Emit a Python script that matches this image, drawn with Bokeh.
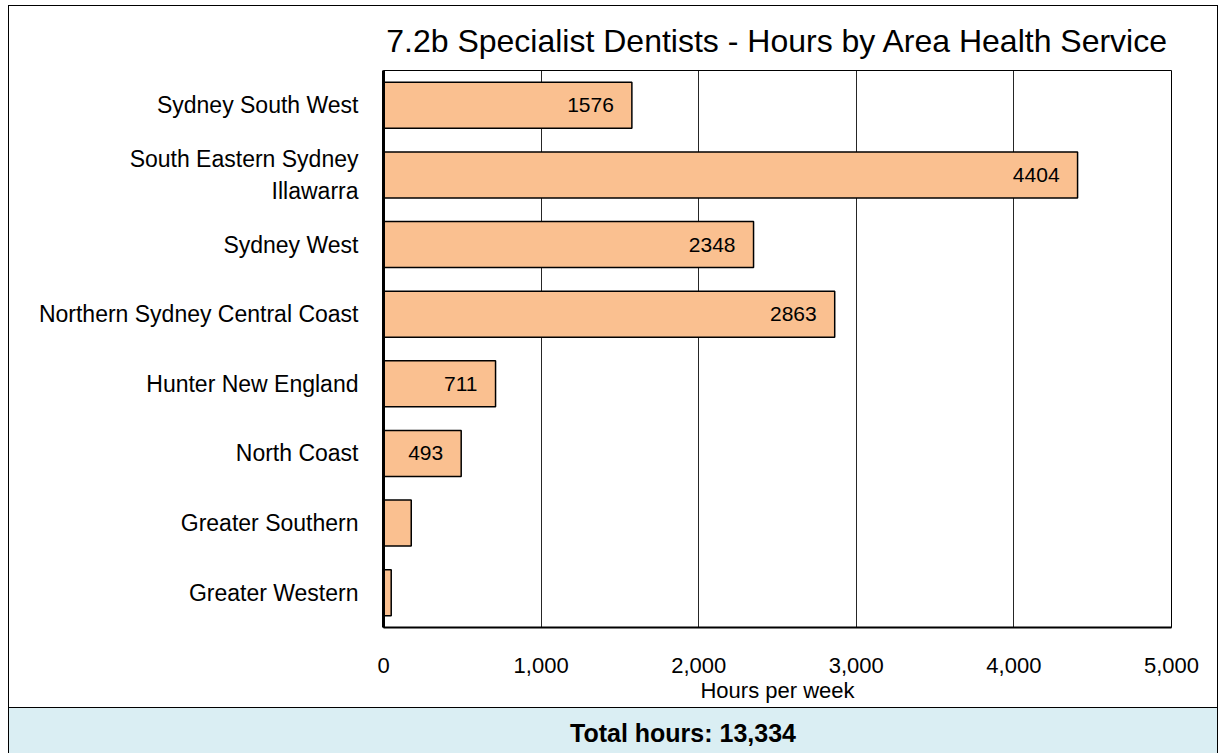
from bokeh.plotting import figure
from bokeh.layouts import column
from bokeh.models import (ColumnDataSource, FactorRange, Range1d, NumeralTickFormatter,
                          FixedTicker, LabelSet, Div)
from bokeh.core.properties import value
from bokeh.embed import file_html
from bokeh.resources import INLINE

# ---- data ----
areas = ["Sydney South West", "South Eastern Sydney\nIllawarra", "Sydney West",
         "Northern Sydney Central Coast", "Hunter New England", "North Coast",
         "Greater Southern", "Greater Western"]
hours = [1576, 4404, 2348, 2863, 711, 493, 176, 49]
value_labels = ["1576", "4404", "2348", "2863", "711", "493", "", ""]
x_ticks = [0, 1000, 2000, 3000, 4000, 5000]
title_text = "7.2b Specialist Dentists - Hours by Area Health Service"
x_title = "Hours per week"
total_text = "Total hours: 13,334"

FONT = "Liberation Sans"
W = 1208
H_MAIN = 701
H_TOT = 46

src = ColumnDataSource(dict(area=areas, hours=hours, lab=value_labels))

p = figure(width=W, height=H_MAIN, output_backend="svg", toolbar_location=None,
           y_range=FactorRange(factors=list(reversed(areas)), range_padding=0),
           x_range=Range1d(0, 5000),
           min_border_left=374, min_border_right=46, min_border_top=64,
           min_border_bottom=80, title=title_text)

p.hbar(y="area", right="hours", height=0.66, source=src,
       fill_color="#FAC090", line_color="black", line_width=1.5)

p.add_layout(LabelSet(x="hours", y="area", text="lab", source=src, x_offset=-18,
                      text_align="right", text_baseline="middle",
                      text_font=value(FONT), text_font_size=value("21px"),
                      text_color="black"))

# title
p.title.text_font = FONT
p.title.text_font_size = "32px"
p.title.text_font_style = "normal"
p.title.align = "center"
p.title.text_color = "black"
p.title.standoff = 24

# x axis
xa = p.xaxis[0]
xa.ticker = FixedTicker(ticks=x_ticks)
xa.formatter = NumeralTickFormatter(format="0,0")
xa.major_tick_line_color = None
xa.minor_tick_line_color = None
xa.axis_line_color = "black"
xa.axis_line_width = 2
xa.major_label_text_font = FONT
xa.major_label_text_font_size = "22px"
xa.major_label_text_color = "black"
xa.major_label_standoff = 24
xa.axis_label = x_title
xa.axis_label_text_font = FONT
xa.axis_label_text_font_size = "22px"
xa.axis_label_text_font_style = "normal"
xa.axis_label_text_color = "black"
xa.axis_label_standoff = 2

# y axis
ya = p.yaxis[0]
ya.major_tick_line_color = None
ya.minor_tick_line_color = None
ya.axis_line_color = "black"
ya.axis_line_width = 3
ya.major_label_text_font = FONT
ya.major_label_text_font_size = "23px"
ya.major_label_text_color = "black"
ya.major_label_standoff = 19

# grid
p.xgrid.grid_line_color = "black"
p.xgrid.grid_line_width = 1
p.xgrid.grid_line_alpha = 0.85
p.ygrid.grid_line_color = None
p.outline_line_color = "black"
p.outline_line_width = 1
p.background_fill_color = "white"
p.border_fill_color = "white"

# ---- total strip ----
t = Div(text="<b>" + total_text + "</b>", width=W, height=H_TOT, margin=0,
        styles={"background-color": "#DAEEF3", "border-top": "1.5px solid black",
                "box-sizing": "border-box", "font-family": FONT,
                "font-size": "25px", "font-weight": "bold", "color": "black",
                "padding-left": "561px", "padding-top": "11px", "line-height": "28px"})

layout = column(p, t, spacing=0,
                styles={"margin-left": "8px", "margin-top": "5px",
                        "border-left": "1px solid black", "border-top": "1px solid black",
                        "border-right": "1px solid black"})

open("out.html", "w").write(file_html(layout, INLINE))
